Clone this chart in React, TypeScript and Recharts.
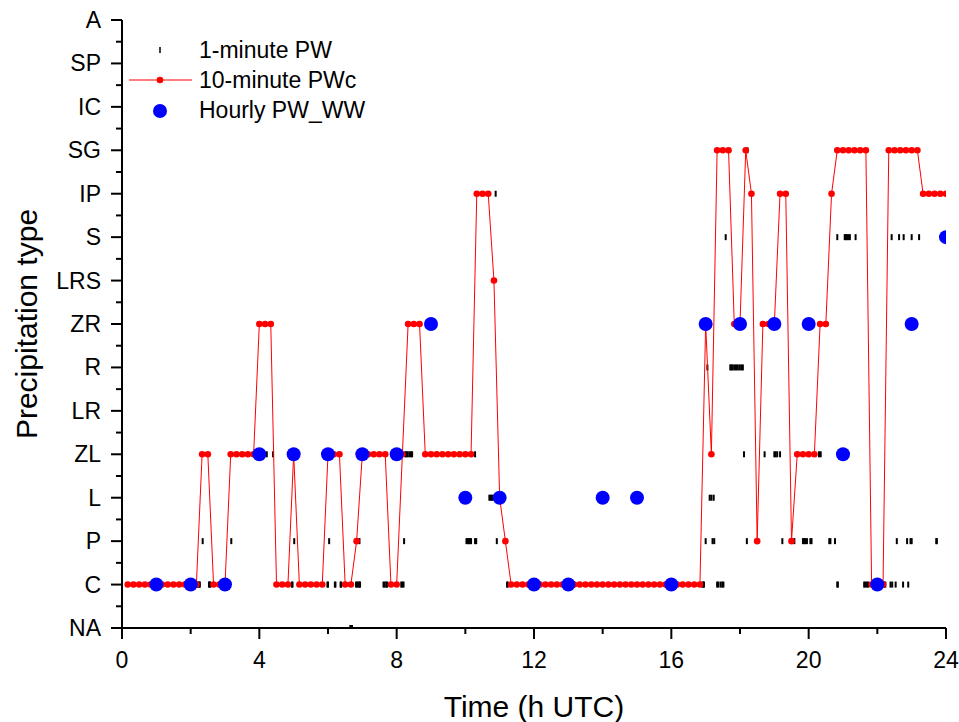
import React from "react";
import { ComposedChart, Scatter, XAxis, YAxis, Legend } from "recharts";

// category order on the y axis (index = numeric level)
const categories = ["NA", "C", "P", "L", "ZL", "LR", "R", "ZR", "LRS", "S", "IP", "SG", "IC", "SP", "A"];

const xTicks = [0, 2, 4, 6, 8, 10, 12, 14, 16, 18, 20, 22, 24];
const yTicks = [
  0, 0.5, 1, 1.5, 2, 2.5, 3, 3.5, 4, 4.5, 5, 5.5, 6, 6.5, 7, 7.5, 8, 8.5, 9, 9.5,
  10, 10.5, 11, 11.5, 12, 12.5, 13, 13.5, 14,
];

// 10-minute PWc, one row per hour (slots at h+1/6 ... h+1)
const tenMinuteRows = [
  ["C", "C", "C", "C", "C", "C"],
  ["C", "C", "C", "C", "C", "C"],
  ["C", "ZL", "ZL", "C", "C", "C"],
  ["ZL", "ZL", "ZL", "ZL", "ZL", "ZR"],
  ["ZR", "ZR", "C", "C", "C", "ZL"],
  ["C", "C", "C", "C", "C", "ZL"],
  ["ZL", "ZL", "C", "C", "P", "ZL"],
  ["ZL", "ZL", "ZL", "ZL", "C", "C"],
  ["ZL", "ZR", "ZR", "ZR", "ZL", "ZL"],
  ["ZL", "ZL", "ZL", "ZL", "ZL", "ZL"],
  ["ZL", "IP", "IP", "IP", "LRS", "L"],
  ["P", "C", "C", "C", "C", "C"],
  ["C", "C", "C", "C", "C", "C"],
  ["C", "C", "C", "C", "C", "C"],
  ["C", "C", "C", "C", "C", "C"],
  ["C", "C", "C", "C", "C", "C"],
  ["C", "C", "C", "C", "C", "ZR"],
  ["ZL", "SG", "SG", "SG", "ZR", "ZR"],
  ["SG", "IP", "P", "ZR", "ZR", "ZR"],
  ["IP", "IP", "P", "ZL", "ZL", "ZL"],
  ["ZL", "ZR", "ZR", "IP", "SG", "SG"],
  ["SG", "SG", "SG", "SG", "C", "C"],
  ["C", "SG", "SG", "SG", "SG", "SG"],
  ["SG", "IP", "IP", "IP", "IP", "IP"],
];

// hourly PW_WW
const hourlyHours = [1, 2, 3, 4, 5, 6, 7, 8, 9, 10, 11, 12, 13, 14, 15, 16, 17, 18, 19, 20, 21, 22, 23, 24];
const hourlyTypes = [
  "C", "C", "C", "ZL", "ZL", "ZL", "ZL", "ZL", "ZR", "L", "L", "C",
  "C", "L", "L", "C", "ZR", "ZR", "ZR", "ZR", "ZL", "C", "ZR", "S",
];

// 1-minute PW, visible marks (minute of day) per type
const minutesNA = [399, 402];
const minutesC = [
  132, 133, 135, 136, 152, 153, 154, 297, 298, 359, 360, 372, 373, 382, 383, 409, 411, 413, 415, 416,
  457, 459, 462, 463, 488, 490, 492, 673, 674, 1014, 1016, 1017, 1040, 1042, 1046, 1049, 1051,
  1250, 1251, 1297, 1299, 1302, 1304, 1332, 1334, 1343, 1346, 1352, 1365, 1374,
];
const minutesP = [
  141, 191, 301, 362, 415, 493, 602, 604, 606, 608, 610, 617, 619, 655, 1020, 1032, 1035, 1092,
  1154, 1175, 1190, 1192, 1194, 1197, 1203, 1205, 1236, 1238, 1246, 1354, 1372, 1378, 1380, 1423, 1424,
];
const minutesL = [642, 644, 646, 648, 652, 1027, 1030, 1034];
const minutesZL = [253, 264, 495, 497, 499, 502, 505, 507, 617, 1087, 1123, 1140, 1142, 1145, 1150, 1218, 1221];
const minutesR = [1023, 1063, 1065, 1067, 1070, 1073, 1076, 1079, 1082, 1085];
const minutesS = [1055, 1250, 1263, 1265, 1267, 1270, 1272, 1282, 1345, 1358, 1366, 1380, 1393];
const minutesIP = [653];
const minutesSG = [1093];

const level = (c: string) => categories.indexOf(c);

const oneMinuteData = (
  [
    ["NA", minutesNA],
    ["C", minutesC],
    ["P", minutesP],
    ["L", minutesL],
    ["ZL", minutesZL],
    ["R", minutesR],
    ["S", minutesS],
    ["IP", minutesIP],
    ["SG", minutesSG],
  ] as [string, number[]][]
).flatMap(([c, mins]) => mins.map((m) => ({ t: m / 60, v: level(c) })));

const tenMinuteData = tenMinuteRows.flatMap((row, h) =>
  row.map((c, i) => ({ t: h + (i + 1) / 6, v: level(c) }))
);

const hourlyData = hourlyHours.map((h, i) => ({ t: h, v: level(hourlyTypes[i]) }));

const FONT = "'Liberation Sans', Arial, sans-serif";

function BottomTick({ x, y, payload }: any) {
  const major = payload.value % 4 === 0;
  return (
    <g>
      <line x1={x} y1={y} x2={x} y2={y + (major ? 11 : 6)} stroke="#000" strokeWidth={2} />
      {major && (
        <text x={x} y={y + 40} textAnchor="middle" fontSize={23} fontFamily={FONT} fill="#000">
          {payload.value}
        </text>
      )}
    </g>
  );
}

function TopTick({ x, y, payload }: any) {
  const major = payload.value % 4 === 0;
  return <line x1={x} y1={y} x2={x} y2={y + (major ? 11 : 6)} stroke="#000" strokeWidth={2} />;
}

function LeftTick({ x, y, payload }: any) {
  const major = Number.isInteger(payload.value);
  return (
    <g>
      <line x1={x - (major ? 11 : 6)} y1={y} x2={x} y2={y} stroke="#000" strokeWidth={2} />
      {major && (
        <text x={x - 21} y={y + 8} textAnchor="end" fontSize={23} fontFamily={FONT} fill="#000">
          {categories[payload.value]}
        </text>
      )}
    </g>
  );
}

function RightTick({ x, y, payload }: any) {
  const major = Number.isInteger(payload.value);
  return <line x1={x - (major ? 11 : 6)} y1={y} x2={x} y2={y} stroke="#000" strokeWidth={2} />;
}

function LegendBox() {
  return (
    <svg width={270} height={100}>
      <rect x={34.25} y={17} width={1.5} height={6} fill="#000" />
      <text x={74} y={28} fontSize={23} fontFamily={FONT} fill="#000">1-minute PW</text>
      <line x1={4} y1={50} x2={67} y2={50} stroke="#ff0000" strokeWidth={1} />
      <circle cx={35} cy={50} r={3.3} fill="#ff0000" />
      <text x={74} y={58} fontSize={23} fontFamily={FONT} fill="#000">10-minute PWc</text>
      <circle cx={35} cy={81} r={7} fill="#0000ff" />
      <text x={74} y={88} fontSize={23} fontFamily={FONT} fill="#000">Hourly PW_WW</text>
    </svg>
  );
}

export default function App() {
  return (
    <div style={{ position: "absolute", left: 0, top: 0, background: "#fff" }}>
      <ComposedChart width={959} height={722} margin={{ top: 20, right: 13, bottom: 0, left: 0 }}>
        <XAxis
          xAxisId={0}
          type="number"
          dataKey="t"
          domain={[0, 24]}
          ticks={xTicks}
          interval={0}
          allowDataOverflow
          height={94}
          tickLine={false}
          tickSize={0}
          tickMargin={0}
          axisLine={{ stroke: "#000", strokeWidth: 2 }}
          tick={(p: any) => <BottomTick {...p} />}
          label={{
            content: ({ viewBox }: any) => (
              <text
                x={viewBox.x + viewBox.width / 2}
                y={717}
                textAnchor="middle"
                fontSize={30}
                fontFamily={FONT}
                fill="#000"
              >
                Time (h UTC)
              </text>
            ),
          }}
        />
        <XAxis
          xAxisId="top"
          orientation="top"
          type="number"
          domain={[0, 24]}
          ticks={xTicks}
          interval={0}
          allowDataOverflow
          height={0}
          tickLine={false}
          tickSize={0}
          tickMargin={0}
          axisLine={{ stroke: "#000", strokeWidth: 2 }}
          tick={(p: any) => <TopTick {...p} />}
        />
        <YAxis
          yAxisId={0}
          type="number"
          dataKey="v"
          domain={[0, 14]}
          ticks={yTicks}
          interval={0}
          allowDataOverflow
          width={122}
          tickLine={false}
          tickSize={0}
          tickMargin={0}
          axisLine={{ stroke: "#000", strokeWidth: 2 }}
          tick={(p: any) => <LeftTick {...p} />}
          label={{
            content: ({ viewBox }: any) => {
              const cx = 37;
              const cy = viewBox.y + viewBox.height / 2;
              return (
                <text
                  x={cx}
                  y={cy}
                  transform={`rotate(-90, ${cx}, ${cy})`}
                  textAnchor="middle"
                  fontSize={30}
                  fontFamily={FONT}
                  fill="#000"
                >
                  Precipitation type
                </text>
              );
            },
          }}
        />
        <YAxis
          yAxisId="right"
          orientation="right"
          type="number"
          domain={[0, 14]}
          ticks={yTicks}
          interval={0}
          allowDataOverflow
          width={0}
          tickLine={false}
          tickSize={0}
          tickMargin={0}
          axisLine={{ stroke: "#000", strokeWidth: 2 }}
          tick={(p: any) => <RightTick {...p} />}
        />
        <Legend
          layout="horizontal"
          verticalAlign="middle"
          align="center"
          wrapperStyle={{ position: "absolute", left: 125, top: 30, width: 270, height: 100 }}
          content={() => <LegendBox />}
        />
        <Scatter
          name="1-minute PW"
          data={oneMinuteData}
          isAnimationActive={false}
          shape={(p: any) => <rect x={p.cx - 1} y={p.cy - 3} width={2} height={6} fill="#000" />}
        />
        <Scatter
          name="10-minute PWc"
          data={tenMinuteData}
          isAnimationActive={false}
          line={{ stroke: "#ff0000", strokeWidth: 1 }}
          lineJointType="linear"
          shape={(p: any) => <circle cx={p.cx} cy={p.cy} r={3.3} fill="#ff0000" />}
        />
        <Scatter
          name="Hourly PW_WW"
          data={hourlyData}
          isAnimationActive={false}
          shape={(p: any) => <circle cx={p.cx} cy={p.cy} r={7} fill="#0000ff" />}
        />
      </ComposedChart>
    </div>
  );
}
